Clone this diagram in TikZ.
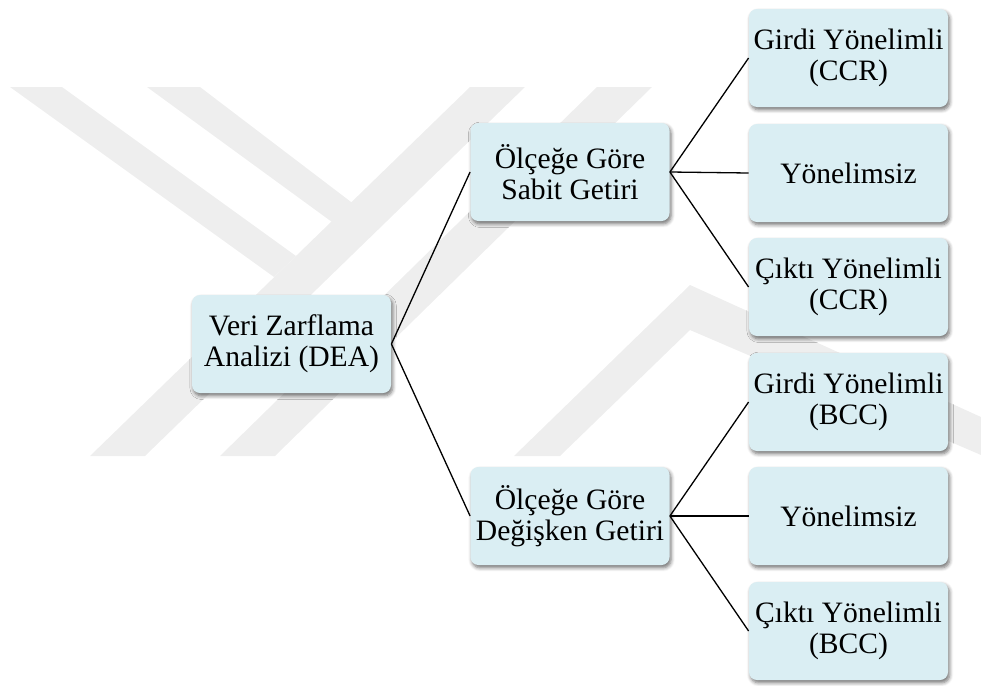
\documentclass[tikz,border=0pt]{standalone}
\usepackage{fontspec}
\setmainfont{Liberation Serif}
\usetikzlibrary{shadows.blur}
\definecolor{BoxFill}{HTML}{DAEEF3}
\definecolor{Mark}{HTML}{EEEEEE}

\begin{document}
\begin{tikzpicture}[x=0.5pt,y=-0.5pt]
				\tikzstyle{Box} = [rectangle, rounded corners=4pt, fill=BoxFill, minimum width=99.5pt, minimum height=49pt, inner sep=0pt, align=center, font=\fontsize{14.8}{15.3}\selectfont, blur shadow={shadow xshift=0.8pt, shadow yshift=-1.4pt, shadow blur steps=5, shadow blur extra rounding=1pt, shadow opacity=55}]
				\useasboundingbox (0,0) rectangle (981,686);
				% watermark
				\fill [Mark] (10,87) -- (62,87) -- (296,256) -- (274,277) -- cycle;
				\fill [Mark] (147,87) -- (200,87) -- (355,205) -- (332,222) -- cycle;
				\fill [Mark] (90,456) -- (145,456) -- (525,87) -- (470,87) -- cycle;
				\fill [Mark] (220,456) -- (275,456) -- (652,87) -- (597,87) -- cycle;
				\fill [Mark] (514,456) -- (690,285) -- (981,417) -- (981,455) -- (690,330) -- (560,456) -- cycle;
				% boxes
				\node (dea) at (291.5,344) [Box] {Veri Zarflama\\Analizi (DEA)};
				\node (sabit) at (570,172) [Box] {Ölçeğe Göre\\Sabit Getiri};
				\node (degisken) at (570,516) [Box] {Ölçeğe Göre\\Değişken Getiri};
				\node (s1) at (848.5,58) [Box] {Girdi Yönelimli\\(CCR)};
				\node (s2) at (848.5,173) [Box] {Yönelimsiz};
				\node (s3) at (848.5,287) [Box] {Çıktı Yönelimli\\(CCR)};
				\node (d1) at (848.5,402) [Box] {Girdi Yönelimli\\(BCC)};
				\node (d2) at (848.5,516) [Box] {Yönelimsiz};
				\node (d3) at (848.5,631) [Box] {Çıktı Yönelimli\\(BCC)};
				% lines
				\draw [-, line width=0.65pt] (dea.east) to (sabit.west);
				\draw [-, line width=0.65pt] (dea.east) to (degisken.west);
				\draw [-, line width=0.65pt] (sabit.east) to (s1.west);
				\draw [-, line width=0.65pt] (sabit.east) to (s2.west);
				\draw [-, line width=0.65pt] (sabit.east) to (s3.west);
				\draw [-, line width=0.65pt] (degisken.east) to (d1.west);
				\draw [-, line width=0.65pt] (degisken.east) to (d2.west);
				\draw [-, line width=0.65pt] (degisken.east) to (d3.west);
\end{tikzpicture}
\end{document}
